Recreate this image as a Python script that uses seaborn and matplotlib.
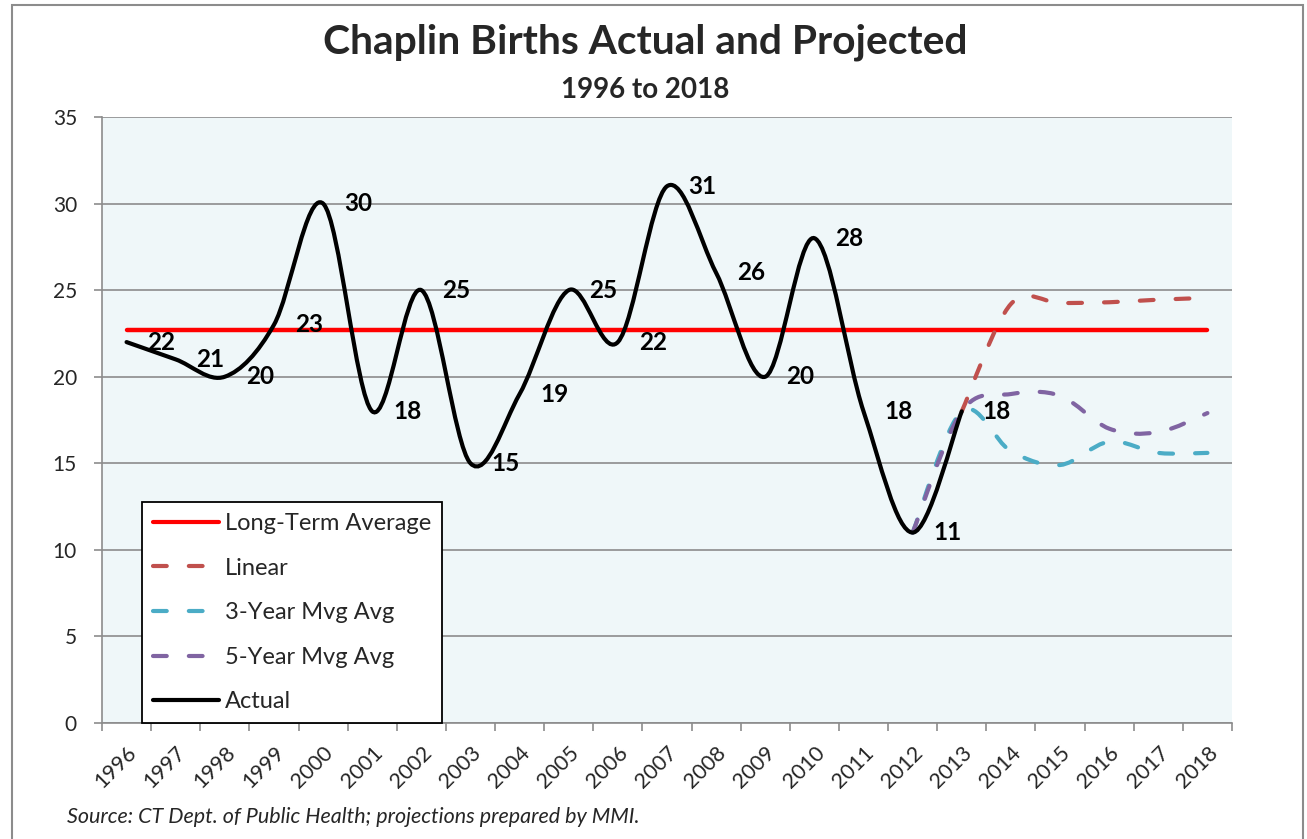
import numpy as np
import matplotlib
matplotlib.use('Agg')
import matplotlib.pyplot as plt
import seaborn as sns
from matplotlib.path import Path
from matplotlib.patches import PathPatch, Rectangle
from matplotlib.lines import Line2D

sns.set_theme(style='white')
plt.rcParams['font.family'] = ['Lato', 'DejaVu Sans']

# ---------------- data ----------------
years = [str(y) for y in range(1996, 2019)]

actual_years = list(range(1996, 2014))
actual = [22, 21, 20, 23, 30, 18, 25, 15, 19, 25, 22, 31, 26, 20, 28, 18, 11, 18]

long_term_avg = [22.7] * len(years)

linear_years = [2013, 2014, 2015, 2016, 2017, 2018]
linear = [18, 24.2, 24.25, 24.3, 24.45, 24.55]

mvg3_years = [2012, 2013, 2014, 2015, 2016, 2017, 2018]
mvg3 = [11, 18, 15.7, 14.9, 16.25, 15.6, 15.6]

mvg5_years = [2012, 2013, 2014, 2015, 2016, 2017, 2018]
mvg5 = [11, 18, 19.0, 18.9, 17.0, 16.8, 17.9]

C_AVG = '#FF0000'
C_LIN = '#C0504D'
C_3YR = '#4BACC6'
C_5YR = '#8064A2'
C_ACT = '#000000'
GRID = '#8C8C8C'
DASH = (0, (3.3, 5.3))


def pos(yrs):
    return [y - 1996 for y in yrs]


def smooth_path(xs, ys):
    # Excel-style smoothed line as cubic bezier segments through the points
    pts = np.column_stack([xs, ys]).astype(float)
    n = len(pts)
    verts = [pts[0]]
    codes = [Path.MOVETO]
    for i in range(n - 1):
        p0 = pts[i - 1] if i > 0 else pts[i]
        p1, p2 = pts[i], pts[i + 1]
        p3 = pts[i + 2] if i + 2 < n else pts[i + 1]
        verts += [p1 + (p2 - p0) / 6, p2 - (p3 - p1) / 6, p2]
        codes += [Path.CURVE4] * 3
    return Path(verts, codes)


fig = plt.figure(figsize=(13.07, 8.39), dpi=100)
ax = fig.add_axes([102 / 1307, 1 - 723 / 839, 1130 / 1307, 606 / 839])
ax.set_facecolor('#EFF7F9')

# long-term average
sns.lineplot(x=pos(range(1996, 2019)), y=long_term_avg, ax=ax, color=C_AVG,
             lw=3.2, legend=False, solid_capstyle='round', zorder=3)

for xs, ys, c, ls in [(pos(linear_years), linear, C_LIN, DASH),
                      (pos(mvg3_years), mvg3, C_3YR, DASH),
                      (pos(mvg5_years), mvg5, C_5YR, DASH),
                      (pos(actual_years), actual, C_ACT, '-')]:
    patch = PathPatch(smooth_path(xs, ys), fill=False, edgecolor=c, lw=3,
                      linestyle=ls, capstyle='round', zorder=4)
    ax.add_patch(patch)

# data labels
for x, v in zip(pos(actual_years), actual):
    ax.annotate(str(v), (x, v), xytext=(15, 0), textcoords='offset points',
                ha='left', va='center', fontsize=17.5, fontweight='bold',
                color='black', zorder=6)

ax.set_xlim(-0.5, 22.5)
ax.set_ylim(0, 35)
ax.set_yticks(range(0, 36, 5))
ax.set_xticks(range(len(years)))
ax.set_xticklabels(years, rotation=45, ha='right', rotation_mode='anchor')
ax.set_xticks(np.arange(-0.5, 23, 1), minor=True)
ax.tick_params(axis='x', which='major', length=0, pad=14, labelsize=15.5)
ax.tick_params(axis='x', which='minor', length=6, width=1.2, color=GRID,
               bottom=True)
ax.tick_params(axis='y', length=6, width=1.2, color=GRID, left=True,
               pad=12, labelsize=15)
ax.yaxis.grid(True, color=GRID, lw=1.2)
ax.set_axisbelow(True)
for s in ['top', 'right']:
    ax.spines[s].set_visible(False)
for s in ['left', 'bottom']:
    ax.spines[s].set_color(GRID)
    ax.spines[s].set_linewidth(1.2)
ax.set_xlabel('')
ax.set_ylabel('')

handles = [
    Line2D([], [], color=C_AVG, lw=3, solid_capstyle='round'),
    Line2D([], [], color=C_LIN, lw=3, ls=DASH, dash_capstyle='round'),
    Line2D([], [], color=C_3YR, lw=3, ls=DASH, dash_capstyle='round'),
    Line2D([], [], color=C_5YR, lw=3, ls=DASH, dash_capstyle='round'),
    Line2D([], [], color=C_ACT, lw=3, solid_capstyle='round'),
]
labels = ['Long-Term Average', 'Linear', '3-Year Mvg Avg', '5-Year Mvg Avg',
          'Actual']
leg = ax.legend(handles, labels, loc='lower left',
                bbox_to_anchor=(40 / 1130, 0), fontsize=17, frameon=True,
                fancybox=False, edgecolor='black', framealpha=1,
                handlelength=2.8, handletextpad=0.25, labelspacing=1.0,
                borderpad=0.45, borderaxespad=0)
leg.get_frame().set_linewidth(1.3)
leg.set_zorder(7)

fig.text(645 / 1307, 1 - 42 / 839, 'Chaplin Births Actual and Projected',
         ha='center', va='center', fontsize=29.3, fontweight='bold')
fig.text(645 / 1307, 1 - 90 / 839, '1996 to 2018', ha='center', va='center',
         fontsize=20, fontweight='bold')
fig.text(67 / 1307, 1 - 817 / 839,
         'Source: CT Dept. of Public Health; projections prepared by MMI.',
         ha='left', va='center', fontsize=15.5, style='italic')

fig.patches.append(Rectangle((12 / 1307, -0.02), 1291 / 1307, 1.02 - 5 / 839,
                             transform=fig.transFigure, fill=False,
                             edgecolor='#8C8C8C', lw=1.5))

fig.savefig('out.png', dpi=100)
